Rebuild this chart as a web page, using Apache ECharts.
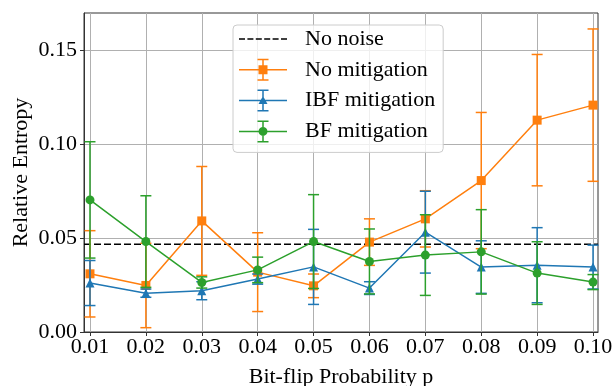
<!DOCTYPE html>
<html>
<head>
<meta charset="utf-8">
<script src="https://cdn.jsdelivr.net/npm/echarts@6/dist/echarts.min.js"></script>
<style>
  html, body { margin: 0; padding: 0; background: #ffffff; }
  #chart { width: 615px; height: 386px; }
</style>
</head>
<body>
<div id="chart"></div>
<script>
// Bit-flip probabilities and tick labels
const probabilities = [0.01, 0.02, 0.03, 0.04, 0.05, 0.06, 0.07, 0.08, 0.09, 0.10];
const xTicks = [0.01, 0.02, 0.03, 0.04, 0.05, 0.06, 0.07, 0.08, 0.09, 0.10];
const yTicks = [0.00, 0.05, 0.10, 0.15];

// Reference level without noise
const noNoise = 0.0468;

// Relative entropy means and error half-widths
const noMitigation    = [0.0310, 0.0248, 0.0592, 0.0319, 0.0246, 0.0479, 0.0603, 0.0807, 0.1129, 0.1209];
const noMitigationErr = [0.0230, 0.0225, 0.0290, 0.0210, 0.0063, 0.0124, 0.0150, 0.0363, 0.0350, 0.0406];
const ibfMitigation    = [0.0261, 0.0207, 0.0220, 0.0282, 0.0347, 0.0234, 0.0532, 0.0346, 0.0356, 0.0346];
const ibfMitigationErr = [0.0120, 0.0022, 0.0048, 0.0027, 0.0200, 0.0034, 0.0218, 0.0140, 0.0200, 0.0117];
const bfMitigation    = [0.0704, 0.0482, 0.0264, 0.0331, 0.0482, 0.0376, 0.0410, 0.0427, 0.0314, 0.0266];
const bfMitigationErr = [0.0310, 0.0244, 0.0030, 0.0068, 0.0250, 0.0173, 0.0215, 0.0225, 0.0167, 0.0040];

const FONT = "'Liberation Serif', 'Times New Roman', serif";
const ORANGE = '#ff7f0e', BLUE = '#1f77b4', GREEN = '#2ca02c';
const xMin = 0.00893, xMax = 0.10089;

// Legend glyphs: line + error bar with caps + marker (48 x 22 box)
const barBase = 'M0 10.25H48V11.75H0Z M23.25 0H24.75V22H23.25Z M18.5 0H29.5V1.5H18.5Z M18.5 20.5H29.5V22H18.5Z';
const iconSquare = 'path://' + barBase + ' M19.5 6.5H28.5V15.5H19.5Z';
const iconTriangle = 'path://' + barBase + ' M24 6.5L28.5 14.5L19.5 14.5Z';
const iconCircle = 'path://' + barBase + ' M28.5 11A4.5 4.5 0 1 1 19.5 11A4.5 4.5 0 1 1 28.5 11Z';
const iconDash = 'path://M0 0H6V1.5H0Z M8.4 0H14.4V1.5H8.4Z M16.8 0H22.8V1.5H16.8Z M25.2 0H31.2V1.5H25.2Z M33.6 0H39.6V1.5H33.6Z M42 0H48V1.5H42Z';

function errorBars(id, values, errs, color, z) {
  return {
    type: 'custom',
    id: id,
    z: z,
    silent: true,
    data: probabilities.map((p, i) => [p, values[i] - errs[i], values[i] + errs[i]]),
    encode: { x: 0, y: [1, 2] },
    renderItem: function (params, api) {
      const x = api.value(0);
      const lo = api.coord([x, api.value(1)]);
      const hi = api.coord([x, api.value(2)]);
      const half = 5.5;
      const style = { stroke: color, lineWidth: 1.5, fill: null };
      return {
        type: 'group',
        children: [
          { type: 'line', shape: { x1: lo[0], y1: lo[1], x2: hi[0], y2: hi[1] }, style: style },
          { type: 'line', shape: { x1: lo[0] - half, y1: lo[1], x2: lo[0] + half, y2: lo[1] }, style: style },
          { type: 'line', shape: { x1: hi[0] - half, y1: hi[1], x2: hi[0] + half, y2: hi[1] }, style: style }
        ]
      };
    }
  };
}

function meanLine(name, values, color, symbol, size, z) {
  return {
    type: 'line',
    name: name,
    z: z,
    silent: true,
    data: probabilities.map((p, i) => [p, values[i]]),
    symbol: symbol,
    symbolSize: size,
    showAllSymbol: true,
    itemStyle: { color: color, borderWidth: 0 },
    lineStyle: { color: color, width: 1.5 },
    emphasis: { disabled: true }
  };
}

const chart = echarts.init(document.getElementById('chart'), null, { renderer: 'canvas' });

chart.setOption({
  animation: false,
  backgroundColor: '#ffffff',
  grid: {
    left: 84, right: 17, top: 13, bottom: 54,
    outerBoundsMode: 'none',
    containLabel: false,
    show: true, borderColor: '#333333', borderWidth: 1, backgroundColor: 'transparent'
  },
  xAxis: {
    type: 'value',
    min: xMin,
    max: xMax,
    name: 'Bit-flip Probability p',
    nameLocation: 'middle',
    nameGap: 34,
    nameTextStyle: { fontFamily: FONT, fontSize: 22, color: '#000' },
    axisLine: { show: true, onZero: false, lineStyle: { color: '#333333', width: 1 } },
    axisTick: { show: true, customValues: xTicks, length: 4, lineStyle: { color: '#333333', width: 1 } },
    axisLabel: {
      customValues: xTicks,
      formatter: v => v.toFixed(2),
      fontFamily: FONT, fontSize: 22, color: '#000', margin: 4
    },
    splitLine: { show: true, lineStyle: { color: '#b0b0b0', width: 1 } }
  },
  yAxis: {
    type: 'value',
    min: 0,
    max: 0.17,
    interval: 0.05,
    name: 'Relative Entropy',
    nameLocation: 'middle',
    nameGap: 52,
    nameMoveOverlap: false,
    nameTextStyle: { fontFamily: FONT, fontSize: 22, color: '#000' },
    axisLine: { show: true, lineStyle: { color: '#333333', width: 1 } },
    axisTick: { show: true, customValues: yTicks, length: 4, lineStyle: { color: '#333333', width: 1 } },
    axisLabel: {
      customValues: yTicks,
      formatter: v => v.toFixed(2),
      fontFamily: FONT, fontSize: 22, color: '#000', margin: 7
    },
    splitLine: { show: true, lineStyle: { color: '#b0b0b0', width: 1 } }
  },
  legend: {
    orient: 'vertical',
    left: 233,
    top: 25,
    z: 20,
    padding: [3, 8, 10, 6],
    itemWidth: 48,
    itemHeight: 22,
    itemGap: 8.8,
    symbolKeepAspect: true,
    selectedMode: false,
    backgroundColor: 'rgba(255,255,255,0.8)',
    borderColor: '#cccccc',
    borderWidth: 1,
    borderRadius: 4,
    itemStyle: { borderWidth: 0 },
    textStyle: { fontFamily: FONT, fontSize: 22, color: '#000', padding: [0, 0, 0, 13] },
    data: [
      { name: 'No noise', icon: iconDash },
      { name: 'No mitigation', icon: iconSquare },
      { name: 'IBF mitigation', icon: iconTriangle },
      { name: 'BF mitigation', icon: iconCircle }
    ]
  },
  series: [
    {
      // horizontal reference level spanning the full x range
      type: 'line',
      name: 'No noise',
      z: 1,
      silent: true,
      data: [[xMin, noNoise], [xMax, noNoise]],
      symbol: 'none',
      itemStyle: { color: '#000000', borderWidth: 0 },
      lineStyle: { color: '#000000', type: [7, 3], width: 1.5 },
      emphasis: { disabled: true }
    },
    errorBars('noMitigationBars', noMitigation, noMitigationErr, ORANGE, 2),
    meanLine('No mitigation', noMitigation, ORANGE, 'rect', 9, 3),
    errorBars('ibfBars', ibfMitigation, ibfMitigationErr, BLUE, 4),
    meanLine('IBF mitigation', ibfMitigation, BLUE, 'triangle', 9, 5),
    errorBars('bfBars', bfMitigation, bfMitigationErr, GREEN, 6),
    meanLine('BF mitigation', bfMitigation, GREEN, 'circle', 9, 7)
  ]
});
</script>
</body>
</html>
